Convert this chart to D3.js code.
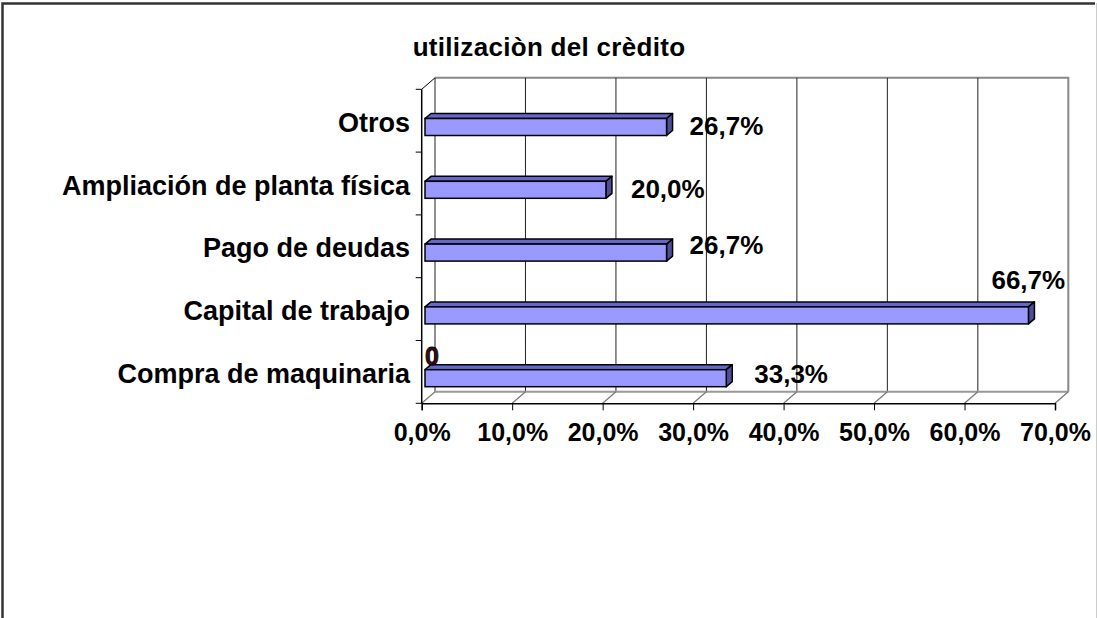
<!DOCTYPE html>
<html lang="es">
<head>
<meta charset="UTF-8">
<title>utilizaciòn del crèdito</title>
<script src="https://d3js.org/d3.v7.min.js"></script>
<style>
  body { margin: 0; background: #fff; }
  text { font-family: "Liberation Sans", Arial, sans-serif; font-weight: bold; fill: #000; }
</style>
</head>
<body>
<script>

    // data, top to bottom as drawn
    var categories = ["Otros", "Ampliación de planta física", "Pago de deudas", "Capital de trabajo", "Compra de maquinaria"];
    var values = [0.267, 0.200, 0.267, 0.667, 0.333];
    var zeroSeries = [null, null, null, null, 0];
    var tickValues = [0, 0.1, 0.2, 0.3, 0.4, 0.5, 0.6, 0.7];
    var title = "utilizaciòn del crèdito";

    var width = 1097, height = 618;
    var depthX = 13.3, depthY = -11.5;   // back wall offset
    var barDX = 6, barDY = -5;          // bar thickness
    var barShift = 3.3, barH = 17, barOff = 6.3;

    var es = d3.formatLocale({decimal: ",", thousands: ".", grouping: [3], currency: ["", ""]});
    var pct = es.format(".1%");

    var x = d3.scaleLinear().domain([0, 0.7]).range([421.7, 1055]);
    var y = d3.scaleBand().domain(categories).range([89.3, 403.3]);
    var yTop = y.range()[0], yBot = y.range()[1];

    var svg = d3.select("body").append("svg")
        .attr("width", width)
        .attr("height", height);

    // outer frame
    svg.append("path").attr("d", "M2.5,618 V3.5 H1095").attr("fill", "none")
        .attr("stroke", "#333").attr("stroke-width", 2.5);
    svg.append("line").attr("x1", 1096.5).attr("x2", 1096.5).attr("y1", 3).attr("y2", 618)
        .attr("stroke", "#ccc").attr("stroke-width", 1);

    svg.append("text")
        .attr("x", 549).attr("y", 56)
        .attr("text-anchor", "middle")
        .style("font-size", "26px")
        .style("letter-spacing", "0.3px")
        .text(title);

    // back wall
    var bx0 = x(0) + depthX, bx1 = x(0.7) + depthX;
    var by0 = yTop + depthY, by1 = yBot + depthY;
    svg.append("path")
        .attr("d", "M" + bx0 + "," + by0 + " H" + bx1 + " V" + by1)
        .attr("fill", "none").attr("stroke", "#888").attr("stroke-width", 2);

    svg.selectAll(".grid").data(tickValues.slice(0, -1)).enter()
        .append("line")
        .attr("x1", function (d) { return x(d) + depthX; })
        .attr("x2", function (d) { return x(d) + depthX; })
        .attr("y1", by0).attr("y2", by1)
        .attr("stroke", "#222").attr("stroke-width", 1);

    // floor
    svg.append("line").attr("x1", bx0).attr("x2", bx1).attr("y1", by1).attr("y2", by1)
        .attr("stroke", "#999").attr("stroke-width", 2);
    svg.selectAll(".floor").data(tickValues).enter()
        .append("line")
        .attr("x1", function (d) { return x(d); })
        .attr("x2", function (d) { return x(d) + depthX; })
        .attr("y1", yBot).attr("y2", by1)
        .attr("stroke", "#777").attr("stroke-width", 1.2);

    // side wall top edge
    svg.append("line").attr("x1", x(0)).attr("x2", bx0).attr("y1", yTop).attr("y2", by0)
        .attr("stroke", "#000").attr("stroke-width", 1);

    // axes
    var xAxis = d3.axisBottom(x).tickValues(tickValues).tickFormat(pct).tickSize(7).tickPadding(13);
    var gx = svg.append("g").attr("transform", "translate(0," + yBot + ")").call(xAxis);
    gx.select(".domain").attr("stroke", "#000").attr("stroke-width", 1.5);
    gx.selectAll("line").attr("stroke", "#000");
    gx.selectAll("text").style("font-size", "25px").attr("fill", "#000")
        .attr("font-family", null);

    var yTicks = categories.map(function (c) { return y(c); }).concat([yBot]);
    svg.append("line").attr("x1", x(0)).attr("x2", x(0)).attr("y1", yTop).attr("y2", yBot)
        .attr("stroke", "#000").attr("stroke-width", 1.5);
    svg.selectAll(".ytick").data(yTicks).enter()
        .append("line")
        .attr("x1", x(0) - 6).attr("x2", x(0))
        .attr("y1", function (d) { return d; }).attr("y2", function (d) { return d; })
        .attr("stroke", "#000");

    svg.selectAll(".cat").data(categories).enter()
        .append("text")
        .attr("x", 410)
        .attr("y", function (d) { return y(d) + y.bandwidth() / 2 + 11; })
        .attr("text-anchor", "end")
        .style("font-size", "27px")
        .text(function (d) { return d; });

    // bars
    var bars = categories.map(function (c, i) {
        var cy = y(c) + y.bandwidth() / 2 + barOff;
        return {cat: c, v: values[i], l: x(0) + barShift, r: x(values[i]) + barShift,
                t: cy - barH / 2, b: cy + barH / 2, cy: cy};
    });

    var g = svg.selectAll(".bar").data(bars).enter().append("g");
    g.append("path")
        .attr("d", function (d) {
            return "M" + d.l + "," + d.t + " L" + (d.l + barDX) + "," + (d.t + barDY) +
                " L" + (d.r + barDX) + "," + (d.t + barDY) + " L" + d.r + "," + d.t + "Z";
        })
        .attr("fill", "#6666CC").attr("stroke", "#000").attr("stroke-width", 1.5)
        .attr("stroke-linejoin", "round");
    g.append("path")
        .attr("d", function (d) {
            return "M" + d.r + "," + d.t + " L" + (d.r + barDX) + "," + (d.t + barDY) +
                " L" + (d.r + barDX) + "," + (d.b + barDY) + " L" + d.r + "," + d.b + "Z";
        })
        .attr("fill", "#4D4D99").attr("stroke", "#000").attr("stroke-width", 1.5)
        .attr("stroke-linejoin", "round");
    g.append("rect")
        .attr("x", function (d) { return d.l; })
        .attr("y", function (d) { return d.t; })
        .attr("width", function (d) { return d.r - d.l; })
        .attr("height", barH)
        .attr("fill", "#9999FF").attr("stroke", "#000").attr("stroke-width", 1.5);

    // value labels (layout nudges per bar, top to bottom)
    var nudge = [[23, 8], [25, 8], [23, 1], [-37, -26], [28, 5]];
    g.append("text")
        .attr("x", function (d, i) { return d.r + nudge[i][0]; })
        .attr("y", function (d, i) { return d.cy + nudge[i][1]; })
        .style("font-size", "26px")
        .text(function (d) { return pct(d.v); });

    // zero-valued second series label
    svg.selectAll(".zero").data(bars.filter(function (d, i) { return zeroSeries[i] !== null; }))
        .enter().append("text")
        .attr("x", function (d) { return d.l; })
        .attr("y", function (d) { return d.cy - 13; })
        .style("font-size", "25px")
        .style("fill", "#3a0a1a")
        .attr("stroke", "#000").attr("stroke-width", 0.8)
        .text("0");

</script>
</body>
</html>
